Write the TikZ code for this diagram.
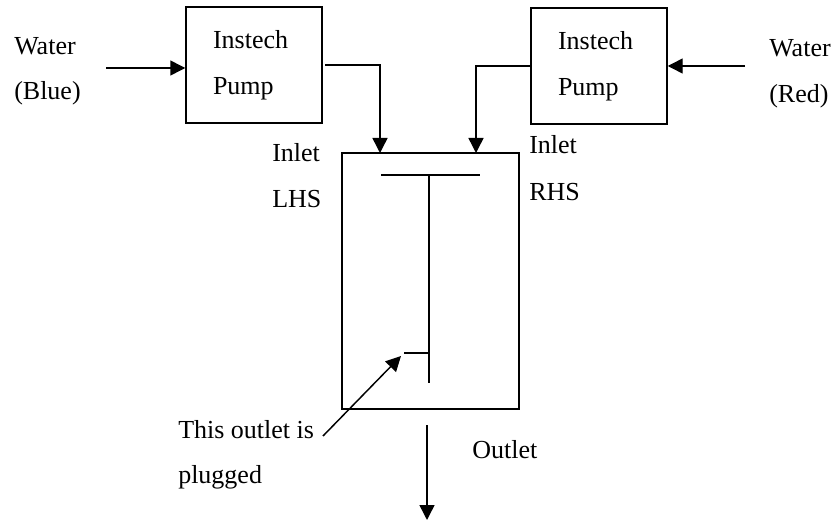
\documentclass[tikz,border=0pt]{standalone}
\usepackage{fontspec}
\setmainfont{Liberation Serif}
\usetikzlibrary{arrows.meta,positioning}
\tikzset{
  boxline/.style={draw=black,line width=1.1pt},
  pumpbox/.style={boxline,align=left,text width=61.5pt,inner xsep=20.25pt,inner ysep=0pt,minimum height=87pt},
  flow/.style={line width=1.1pt,-{Triangle[length=11.25pt,width=11.25pt]}},
  label/.style={anchor=base west,inner sep=0pt,align=left}
}
\begin{document}
\begin{tikzpicture}[x=0.75pt,y=-0.75pt,font=\fontsize{19.5}{34.5}\selectfont]
   \useasboundingbox (0,0) rectangle (834,520);

   \node[pumpbox] (pumpL) at (254,65) {Instech\\Pump};
   \node[pumpbox] (pumpR) at (599,66) {Instech\\Pump};
   \node[boxline,minimum width=132.75pt,minimum height=192pt] (tank) at (430.5,281) {};

   \node[label] (waterL) at (14,55) {Water};
   \node[label] (blue) at (14,100) {(Blue)};
   \node[label] (waterR) at (769,57) {Water};
   \node[label] (red) at (769,103) {(Red)};
   \node[label] (inletL) at (272,162) {Inlet};
   \node[label] (lhs) at (272,208) {LHS};
   \node[label] (inletR) at (529,154) {Inlet};
   \node[label] (rhs) at (529,201) {RHS};
   \node[label] (plug1) at (178,438) {This outlet is};
   \node[label] (plug2) at (178,483) {plugged};
   \node[label] (outlet) at (472,458) {Outlet};

   \coordinate (inL) at (380,153);
   \coordinate (inR) at (476,153);
   \coordinate (srcL) at (106,68);
   \coordinate (srcR) at (745,66);
   \coordinate (outTop) at (427,425);
   \coordinate (outEnd) at (427,520);
   \coordinate (plugFrom) at (323,436);
   \coordinate (plugTo) at (401,356);
   \coordinate (teeL) at (381,175);
   \coordinate (teeR) at (480,175);
   \coordinate (teeTop) at (429,175);
   \coordinate (teeEnd) at (429,383);
   \coordinate (stubL) at (404,353);
   \coordinate (stubR) at (429,353);

   \draw[flow] (srcL) -- (srcL -| pumpL.west);
   \draw[flow] (srcR) -- (srcR -| pumpR.east);
   \draw[flow] ([xshift=2pt]pumpL.east) -| (inL);
   \draw[flow] (pumpR.west) -| (inR);
   \draw[flow] (outTop) -- (outEnd);
   \draw[flow] (plugFrom) -- (plugTo);

   \draw[line width=1.1pt] (teeL) -- (teeR);
   \draw[line width=1.1pt] (teeTop) -- (teeEnd);
   \draw[line width=1.1pt] (stubL) -- (stubR);
\end{tikzpicture}
\end{document}
